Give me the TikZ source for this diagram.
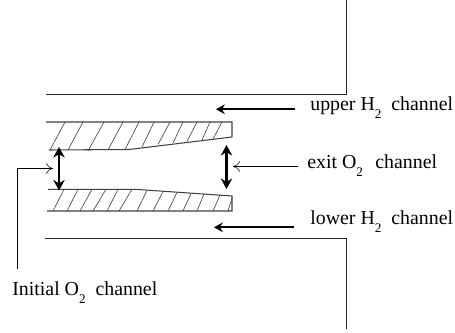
\documentclass[tikz,border=0pt]{standalone}
\usepackage{fontspec}
\setmainfont{Liberation Serif}
\usetikzlibrary{arrows.meta, positioning}
\newcommand{\subtwo}{\raisebox{-4.2pt}{\fontsize{7.5}{9}\selectfont 2}}
\tikzset{
  wall/.style={line width=0.55pt, black!85},
  block/.style={line width=0.6pt, black!75},
  hatchline/.style={line width=0.35pt, black!75},
  gapmark/.style={{Stealth[length=6pt,width=6.5pt]}-{Stealth[length=6pt,width=6.5pt]}, line width=1.5pt},
  flowmark/.style={-{Stealth[length=5pt,width=5.5pt]}, line width=1pt},
  leadmark/.style={-{To[length=4pt,width=6pt]}, line width=0.3pt},
  chlabel/.style={anchor=base west, inner sep=0pt, font=\fontsize{11.3}{13}\selectfont}
}
\begin{document}
\begin{tikzpicture}[x=0.02cm, y=-0.02cm]
  \useasboundingbox (0,0) rectangle (455,333);
  % ---------- channel walls ----------
  \draw[wall] (46,94.7) -- (346.5,94.7) -- (346.5,0);
  \draw[wall] (45,238.3) -- (346,238.3) -- (346,329);
  % ---------- upper plate ----------
  \draw[block] (46,122) -- (232,122) -- (232,137) -- (129,149.5) -- (49,150);
  \foreach \xa/\xb/\ya in {50/65/150, 68/83/150, 88/104/151, 108/123/150, 125/139/149.5,
      142/154/147, 158/170/144.5, 173/183/143, 187/197/141.5, 202/210/140, 213/222/139}
    \draw[hatchline] (\xa,\ya) -- (\xb,122);
  % ---------- lower plate ----------
  \draw[block] (48,189.3) -- (135,189.3) -- (232,196) -- (232,211) -- (47,211);
  \foreach \xa/\xb/\yb in {53/64/189.3, 67/78/189.3, 80/92/189.3, 93/106/189.3, 107/118/189.3,
      119/132/189.3, 137/147/190.5, 153/163/191.5, 168/177/192.5, 183/191/193.5,
      197/204/194, 213/220/195, 228/232/198}
    \draw[hatchline] (\xa,211) -- (\xb,\yb);
  % ---------- labels ----------
  \node[chlabel] (upperlabel) at (310,111) {upper H\subtwo\ \ channel};
  \node[chlabel] (exitlabel) at (307,169) {exit O\subtwo\ \ \hspace{1.4pt}channel};
  \node[chlabel] (lowerlabel) at (310,225) {lower H\subtwo\ \ channel};
  \node[chlabel] (initiallabel) at (12,296) {Initial O\subtwo\ \ channel};
  % ---------- arrows ----------
  \coordinate (uppertail) at (295,109.3);
  \coordinate (upperhead) at (216,109.3);
  \coordinate (lowertail) at (294,227.3);
  \coordinate (lowerhead) at (214,227.3);
  \coordinate (inlettop) at (59,147);
  \coordinate (inletbot) at (59,190.5);
  \coordinate (exittop) at (226.5,145);
  \coordinate (exitbot) at (226.5,189);
  \coordinate (exittail) at (298,166.5);
  \coordinate (exithead) at (233,166.5);
  \coordinate (inittail) at (17,269);
  \coordinate (inithead) at (53,168.5);
  \draw[flowmark] (uppertail) -- (upperhead);
  \draw[flowmark] (lowertail) -- (lowerhead);
  \draw[gapmark] (inlettop) -- (inletbot);
  \draw[gapmark] (exittop) -- (exitbot);
  \draw[leadmark] (exittail) -- (exithead);
  \draw[leadmark] (inittail) |- (inithead);
\end{tikzpicture}
\end{document}
